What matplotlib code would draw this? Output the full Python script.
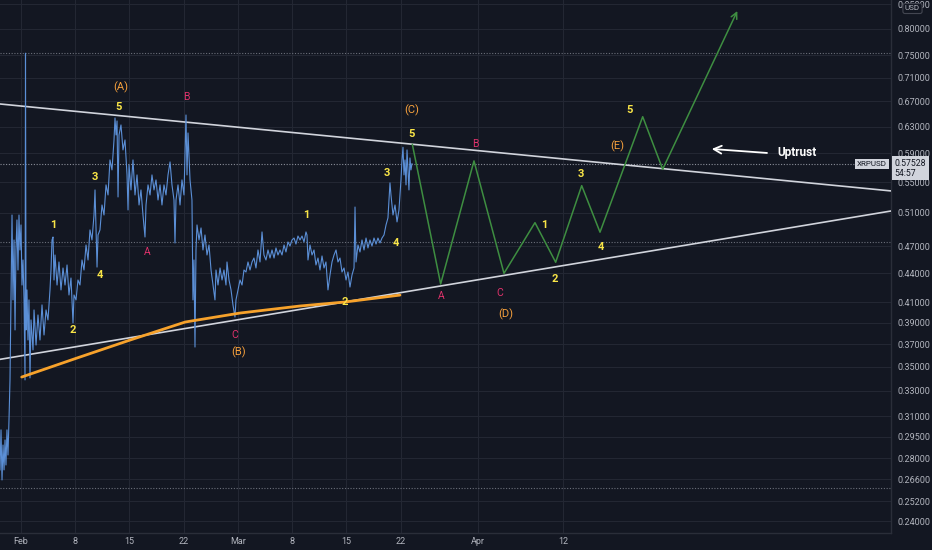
import matplotlib
matplotlib.use("Agg")
import matplotlib.pyplot as plt
from matplotlib.ticker import FixedLocator, FixedFormatter, NullLocator, NullFormatter
import matplotlib.transforms as mtransforms

# ---------------- data ----------------
# days since 1 Feb 2021, XRPUSD price
price_days = [
    -2.71, -2.58, -2.45, -2.32, -2.19, -2.06, -1.94, -1.81, -1.68, -1.55,
    -1.42, -1.29, -1.16, -1.03, -0.90, -0.77, -0.65, -0.52, -0.39, -0.26,
    -0.13, 0.00, 0.13, 0.26, 0.39, 0.52, 0.58, 0.65, 0.77, 0.90,
    1.03, 1.16, 1.29, 1.55, 1.68, 1.94, 2.19, 2.45, 2.71, 2.97,
    3.23, 3.48, 3.74, 3.87, 4.00, 4.13, 4.26, 4.39, 4.65, 4.90,
    5.16, 5.42, 5.68, 5.94, 6.19, 6.45, 6.71, 6.84, 7.10, 7.35,
    7.61, 7.87, 8.13, 8.39, 8.65, 8.90, 9.16, 9.42, 9.55, 9.68,
    9.81, 9.94, 10.19, 10.45, 10.71, 10.97, 11.23, 11.48, 11.74, 12.00,
    12.13, 12.26, 12.39, 12.52, 12.65, 12.90, 13.16, 13.42, 13.68, 13.81,
    13.94, 14.19, 14.45, 14.71, 14.97, 15.23, 15.48, 15.74, 16.00, 16.13,
    16.39, 16.65, 16.90, 17.16, 17.42, 17.68, 17.94, 18.19, 18.45, 18.71,
    18.97, 19.23, 19.48, 19.74, 19.87, 20.00, 20.26, 20.52, 20.77, 21.03,
    21.29, 21.42, 21.55, 21.81, 22.06, 22.19, 22.32, 22.45, 22.58, 22.71,
    22.97, 23.23, 23.48, 23.74, 24.00, 24.26, 24.52, 24.77, 25.03, 25.16,
    25.42, 25.68, 25.94, 26.19, 26.45, 26.58, 26.84, 27.10, 27.35, 27.61,
    27.74, 28.00, 28.26, 28.52, 28.77, 29.03, 29.29, 29.55, 29.81, 30.06,
    30.32, 30.58, 30.84, 31.10, 31.35, 31.61, 31.87, 32.13, 32.39, 32.65,
    32.90, 33.16, 33.42, 33.68, 33.94, 34.19, 34.45, 34.71, 34.97, 35.23,
    35.48, 35.74, 36.00, 36.26, 36.52, 36.77, 36.90, 37.03, 37.29, 37.55,
    37.81, 38.06, 38.32, 38.58, 38.84, 39.10, 39.35, 39.61, 39.87, 40.13,
    40.39, 40.65, 40.90, 41.16, 41.42, 41.68, 41.94, 42.19, 42.45, 42.71,
    42.97, 43.10, 43.23, 43.48, 43.74, 44.00, 44.26, 44.52, 44.77, 45.03,
    45.29, 45.55, 45.81, 46.06, 46.32, 46.58, 46.84, 47.10, 47.35, 47.61,
    47.74, 48.00, 48.26, 48.52, 48.77, 49.03, 49.16, 49.29, 49.42, 49.55,
    49.68, 49.81, 49.94, 50.06, 50.19, 50.32, 50.45,
]
price_values = [
    0.2720, 0.3000, 0.2654, 0.2891, 0.2720, 0.2927, 0.2753, 0.3000, 0.2821, 0.3074,
    0.3390, 0.4123, 0.5075, 0.4123, 0.4774, 0.3831, 0.4659, 0.5014, 0.4436, 0.5075,
    0.4659, 0.4953, 0.4276, 0.4546, 0.4123, 0.3390, 0.7540, 0.3831, 0.4225, 0.3738,
    0.4123, 0.3407, 0.3926, 0.3648, 0.4023, 0.3692, 0.3974, 0.3738, 0.4073, 0.3784,
    0.4023, 0.3926, 0.4225, 0.4436, 0.4774, 0.4809, 0.4329, 0.4602, 0.4276, 0.4524,
    0.4225, 0.4458, 0.4276, 0.4491, 0.4173, 0.4350, 0.3897, 0.4173, 0.4123, 0.4329,
    0.4276, 0.4546, 0.4436, 0.4716, 0.4546, 0.4893, 0.4774, 0.5075, 0.5396, 0.4893,
    0.4468, 0.4833, 0.4893, 0.5201, 0.5075, 0.5463, 0.5330, 0.5807, 0.5667, 0.6098,
    0.6435, 0.6173, 0.6388, 0.5304, 0.6173, 0.6326, 0.5951, 0.6098, 0.5598, 0.5138,
    0.5736, 0.5396, 0.5807, 0.5330, 0.5598, 0.5201, 0.5396, 0.5075, 0.4809, 0.5201,
    0.5463, 0.5330, 0.5598, 0.5396, 0.5530, 0.5265, 0.5463, 0.5201, 0.5463, 0.5330,
    0.5598, 0.5779, 0.5463, 0.5265, 0.4739, 0.5265, 0.5463, 0.5201, 0.5530, 0.5330,
    0.6482, 0.5598, 0.6203, 0.5530, 0.5265, 0.4123, 0.4546, 0.3674, 0.4659, 0.4953,
    0.4774, 0.4917, 0.4659, 0.4833, 0.4602, 0.4716, 0.4436, 0.4276, 0.4123, 0.4436,
    0.4276, 0.4458, 0.4329, 0.4436, 0.4276, 0.4524, 0.4329, 0.4225, 0.4073, 0.3954,
    0.4123, 0.4225, 0.4329, 0.4276, 0.4436, 0.4414, 0.4524, 0.4436, 0.4524, 0.4568,
    0.4458, 0.4659, 0.4524, 0.4869, 0.4602, 0.4546, 0.4659, 0.4568, 0.4659, 0.4568,
    0.4682, 0.4602, 0.4659, 0.4602, 0.4716, 0.4636, 0.4751, 0.4704, 0.4774, 0.4797,
    0.4727, 0.4821, 0.4774, 0.4821, 0.4751, 0.4869, 0.4833, 0.4546, 0.4716, 0.4602,
    0.4659, 0.4491, 0.4568, 0.4436, 0.4591, 0.4458, 0.4524, 0.4225, 0.4382, 0.4524,
    0.4602, 0.4659, 0.4524, 0.4568, 0.4414, 0.4458, 0.4329, 0.4414, 0.4255, 0.4382,
    0.4458, 0.5175, 0.4524, 0.4716, 0.4636, 0.4774, 0.4659, 0.4797, 0.4682, 0.4774,
    0.4704, 0.4797, 0.4727, 0.4797, 0.4739, 0.4797, 0.4833, 0.4953, 0.5039, 0.5490,
    0.5330, 0.5075, 0.5201, 0.4990, 0.5138, 0.5530, 0.5807, 0.5990, 0.5598, 0.5807,
    0.5463, 0.5951, 0.5667, 0.5396, 0.5835, 0.5667, 0.57528,
]
last_price = 0.57528

# orange support curve
orange_days = [0.09, 7.2, 14.1, 21.2, 28.3, 36.0, 41.8, 48.9]
orange_values = [0.3414, 0.3576, 0.3738, 0.3906, 0.3993, 0.4062, 0.4102, 0.4172]

# triangle trendlines (start / end)
upper_days = [-2.71, 112.26]
upper_values = [0.6659, 0.5383]
lower_days = [-2.71, 112.26]
lower_values = [0.3565, 0.5125]

# projected (green) path
proj_days = [50.5, 54.15, 58.45, 62.32, 66.32, 68.99, 72.35, 74.71, 80.22, 82.80]
proj_values = [0.603, 0.4287, 0.5793, 0.4400, 0.4981, 0.4521, 0.5453, 0.4866, 0.6455, 0.5677]
proj_tip_day, proj_tip_value = 92.43, 0.836

# dotted horizontal levels
dotted_levels = [0.7539, 0.4745, 0.2600]

# wave labels
yellow_labels = ["1", "2", "3", "4", "5", "1", "2", "3", "4", "5", "1", "2", "3", "4", "5"]
yellow_days = [4.13, 6.71, 9.55, 10.19, 12.65, 36.77, 41.81, 47.23, 48.39, 50.45,
               67.48, 68.90, 72.26, 74.84, 78.58]
yellow_values = [0.4953, 0.3831, 0.5570, 0.4382, 0.6610, 0.5075, 0.4103, 0.5626, 0.4739, 0.6188,
                 0.4953, 0.4340, 0.5612, 0.4693, 0.6562]

orange_labels = ["(A)", "(B)", "(C)", "(D)", "(E)"]
orange_lab_days = [12.90, 28.13, 50.45, 62.58, 76.90]
orange_lab_values = [0.6942, 0.3630, 0.6562, 0.3984, 0.6010]

pink_labels = ["A", "B", "C", "A", "B", "C"]
pink_days = [16.26, 21.29, 27.61, 54.19, 58.58, 61.81]
pink_values = [0.4636, 0.6774, 0.3784, 0.4163, 0.6038, 0.4194]

note_text = "Uptrust"
note_day, note_value = 100.13, 0.5907
note_arrow_tail = (96.26, 0.5907)
note_arrow_head = (89.13, 0.5965)

x_ticks = [0, 7, 14, 21, 28, 35, 42, 49, 59, 70]
x_labels = ["Feb", "8", "15", "22", "Mar", "8", "15", "22", "Apr", "12"]

y_ticks = [0.24, 0.252, 0.266, 0.28, 0.295, 0.31, 0.33, 0.35, 0.37, 0.39, 0.41,
           0.44, 0.47, 0.51, 0.55, 0.59, 0.63, 0.67, 0.71, 0.75, 0.80, 0.85]
y_labels = ["%.5f" % v for v in y_ticks]

# ---------------- style ----------------
BG = "#131722"
GRID = "#232733"
AXTXT = "#b2b5be"
BLUE = "#5b8fd6"
GREEN = "#3e8e41"
ORANGE_LINE = "#f7a22b"
YELLOW = "#f9e547"
ORANGE_TXT = "#f6a03c"
PINK = "#e0326b"
WHITE_LINE = "#d1d4dc"

plt.rcParams["font.family"] = ["Roboto", "DejaVu Sans"]

fig = plt.figure(figsize=(9.32, 5.5), dpi=100, facecolor=BG)
ax = fig.add_axes([0, 17 / 550, 891 / 932, 533 / 550])
ax.set_facecolor(BG)
ax.set_yscale("log")
ax.set_xlim(-2.71, 112.26)
ax.set_ylim(0.2331, 0.8588)

# grid
ax.yaxis.set_major_locator(FixedLocator(y_ticks))
ax.yaxis.set_major_formatter(FixedFormatter(y_labels))
ax.yaxis.set_minor_locator(NullLocator())
ax.yaxis.set_minor_formatter(NullFormatter())
ax.xaxis.set_major_locator(FixedLocator(x_ticks))
ax.xaxis.set_major_formatter(FixedFormatter(x_labels))
ax.grid(True, color=GRID, lw=0.8)
ax.set_axisbelow(True)
ax.yaxis.tick_right()
ax.tick_params(axis="y", length=0, pad=5, labelsize=6.5, colors=AXTXT)
ax.tick_params(axis="x", length=0, pad=3, labelsize=6.5, colors=AXTXT)
for s in ["left", "top"]:
    ax.spines[s].set_visible(False)
for s in ["right", "bottom"]:
    ax.spines[s].set_color("#2a2e39")
    ax.spines[s].set_linewidth(1)

# dotted levels
for lv in dotted_levels:
    ax.axhline(lv, color="#6b6f7a", lw=0.8, ls=(0, (1, 1.5)), zorder=1)
# last price line
trans_x = mtransforms.blended_transform_factory(ax.transAxes, ax.transData)
ax.plot([0, 0.962], [last_price, last_price], transform=trans_x,
        color="#8a8e99", lw=0.8, ls=(0, (1, 1.5)), zorder=1)

# trendlines
ax.plot(upper_days, upper_values, color=WHITE_LINE, lw=1.2, zorder=3)
ax.plot(lower_days, lower_values, color=WHITE_LINE, lw=1.2, zorder=3)

# price
ax.plot(price_days, price_values, color=BLUE, lw=0.8, zorder=4)

# orange curve
ax.plot(orange_days, orange_values, color=ORANGE_LINE, lw=2, zorder=5,
        solid_capstyle="round")

# projected path
ax.plot(proj_days, proj_values, color=GREEN, lw=1.1, zorder=5)
ax.annotate("", xy=(proj_tip_day, proj_tip_value), xytext=(proj_days[-1], proj_values[-1]),
            arrowprops=dict(arrowstyle="->", color=GREEN, lw=1.1, shrinkA=0, shrinkB=0,
                            mutation_scale=11), zorder=5)

# labels
for t, d, v in zip(yellow_labels, yellow_days, yellow_values):
    ax.text(d, v, t, color=YELLOW, fontsize=8, fontweight="bold", ha="center", va="center", zorder=6)
for t, d, v in zip(orange_labels, orange_lab_days, orange_lab_values):
    ax.text(d, v, t, color=ORANGE_TXT, fontsize=8, ha="center", va="center", zorder=6)
for t, d, v in zip(pink_labels, pink_days, pink_values):
    ax.text(d, v, t, color=PINK, fontsize=7.5, ha="center", va="center", zorder=6)

ax.text(note_day, note_value, note_text, color="white", fontsize=8.5, fontweight="bold",
        ha="center", va="center", zorder=6)
ax.annotate("", xy=note_arrow_head, xytext=note_arrow_tail,
            arrowprops=dict(arrowstyle="->", color="white", lw=1.3, shrinkA=0, shrinkB=0,
                            mutation_scale=14), zorder=6)

# price label boxes
ax.annotate("XRPUSD", xy=(1.0, last_price), xycoords=trans_x, xytext=(-3, 0),
            textcoords="offset points", ha="right", va="center", fontsize=5.8,
            color="#131722", annotation_clip=False,
            bbox=dict(boxstyle="square,pad=0.25", fc="#d1d4dc", ec="none"), zorder=10)
ax.annotate("0.57528\n54:57", xy=(1.0, last_price), xycoords=trans_x, xytext=(2.5, 3.6),
            textcoords="offset points", ha="left", va="top", fontsize=6.3,
            color="#131722", linespacing=1.15, annotation_clip=False,
            bbox=dict(boxstyle="square,pad=0.3", fc="#d1d4dc", ec="none"), zorder=10)

# USD box
fig.text(912.5 / 932, 1 - 8.5 / 550, "USD", color=AXTXT, fontsize=5.8, ha="center", va="center",
         bbox=dict(boxstyle="round,pad=0.25", fc=BG, ec="#434651", lw=0.8), zorder=10)

fig.savefig("out.png", dpi=100, facecolor=BG)
